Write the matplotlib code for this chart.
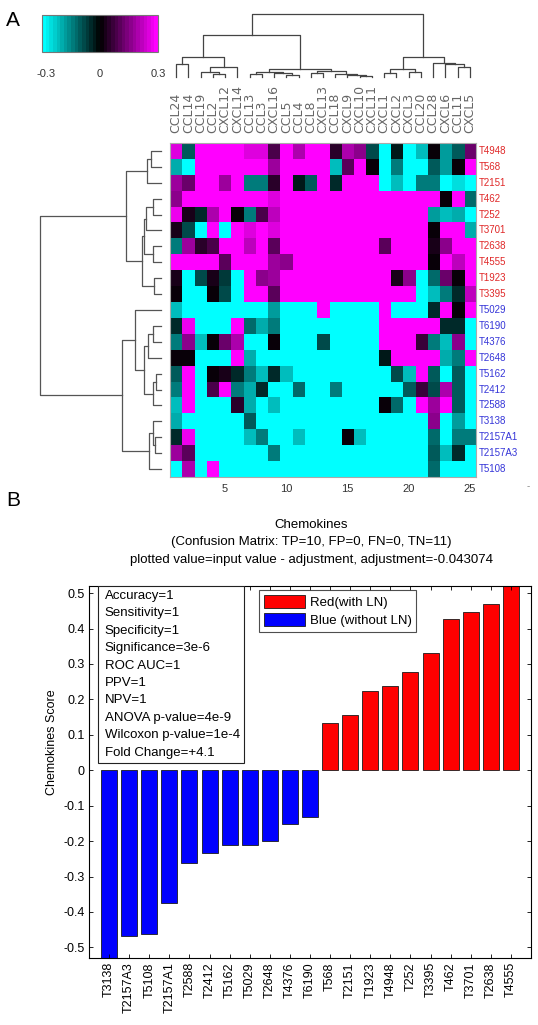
import numpy as np
import matplotlib
matplotlib.use('Agg')
import matplotlib.pyplot as plt
from matplotlib.colors import LinearSegmentedColormap
from matplotlib.patches import Rectangle, Patch
from matplotlib.transforms import blended_transform_factory

plt.rcParams['axes.unicode_minus'] = False
plt.rcParams['font.family'] = ['Liberation Sans', 'DejaVu Sans']

# ---------------- data ----------------
genes = ['CCL24', 'CCL14', 'CCL19', 'CCL2', 'CXCL12', 'CXCL14', 'CCL13', 'CCL3',
         'CXCL16', 'CCL5', 'CCL4', 'CCL8', 'CXCL13', 'CCL18', 'CXCL9', 'CXCL10',
         'CXCL11', 'CXCL1', 'CXCL2', 'CXCL3', 'CCL20', 'CCL28', 'CXCL6', 'CCL11', 'CXCL5']
samples = ['T4948', 'T568', 'T2151', 'T462', 'T252', 'T3701', 'T2638', 'T4555', 'T1923', 'T3395',
           'T5029', 'T6190', 'T4376', 'T2648', 'T5162', 'T2412', 'T2588', 'T3138', 'T2157A1',
           'T2157A3', 'T5108']
sample_group = ['red'] * 10 + ['blue'] * 11

heat = np.array([
    [.25, -.10, .30, .30, .30, .30, .25, .25, .08, .30, .20, .30, .30, .05, .20, .15, -.08, -.30, -.03, -.30, -.22, .00, -.18, -.10, .12],
    [-.20, -.30, .30, .30, .30, .30, .30, .30, .18, .30, .30, .30, .30, -.22, .10, .30, .00, -.30, -.15, -.30, -.30, -.10, -.18, .00, .30],
    [.18, .12, .30, .30, .18, .30, -.15, -.15, .04, .30, -.03, -.10, .30, -.04, .30, .30, .30, -.30, -.22, -.30, -.15, -.15, -.30, -.25, -.30],
    [.15, .30, .30, .30, .30, .30, .30, .30, .25, .30, .30, .30, .30, .30, .30, .30, .30, .30, .30, .30, .30, .30, .00, .30, -.12],
    [.28, .03, -.04, .20, .30, .00, -.15, .08, .22, .30, .30, .30, .30, .30, .30, .30, .30, .30, .30, .30, .30, -.18, -.22, -.20, -.30],
    [.03, -.08, -.30, .30, -.30, .30, .25, .30, .25, .30, .30, .30, .30, .30, .30, .30, .30, .30, .30, .30, .30, .00, .30, .30, -.20],
    [-.15, .18, .04, .08, .30, .30, .22, .30, .10, .30, .30, .30, .30, .30, .30, .30, .30, .10, .30, .30, .30, .03, .15, .30, .30],
    [.30, .30, .30, .30, .10, .30, .30, .30, .18, .15, .30, .30, .30, .30, .30, .30, .30, .30, .30, .30, .30, .00, .30, .22, .30],
    [.03, -.30, -.08, .03, -.06, -.30, .30, .15, .18, .30, .30, .30, .30, .30, .30, .30, .30, .30, .03, .15, -.30, -.12, .12, .00, .30],
    [.00, -.30, -.30, .00, -.08, -.30, .30, .30, .10, .30, .30, .30, .30, .30, .30, .30, .30, .30, .30, .30, -.30, -.22, -.15, -.04, .22],
    [-.22, -.30, -.30, -.30, -.30, -.30, -.30, -.30, -.18, -.30, -.30, -.30, .30, -.30, -.30, -.30, -.30, .30, -.30, -.30, -.30, -.04, .30, .00, .30],
    [-.04, .28, -.30, -.30, -.30, .30, -.12, -.20, -.14, -.30, -.30, -.30, -.30, -.30, -.30, -.30, -.30, .30, .30, .30, .30, .30, -.04, -.04, -.30],
    [-.15, .15, -.22, .00, .12, .20, -.30, -.30, .00, -.30, -.30, -.30, -.08, -.30, -.30, -.30, -.30, .30, .30, .30, .06, -.15, -.22, .15, -.30],
    [.00, .00, -.30, -.30, -.30, .30, -.20, -.30, -.30, -.30, -.30, -.30, -.30, -.30, -.30, -.30, -.30, -.03, .30, .30, .30, .30, -.20, -.15, .30],
    [-.10, .30, -.30, .00, .03, -.04, -.15, -.22, -.04, -.22, -.30, -.30, -.30, -.30, -.30, -.30, -.30, -.30, -.08, -.22, .30, -.10, -.30, -.10, -.30],
    [-.15, .30, -.30, .08, .30, -.15, -.20, -.04, -.30, -.30, -.12, -.30, -.30, -.15, -.30, -.30, -.30, -.30, -.30, -.10, .06, -.08, .20, -.10, -.30],
    [-.22, .30, -.30, -.30, -.30, .05, -.20, -.30, -.22, -.30, -.30, -.30, -.30, -.30, -.30, -.30, -.30, .00, -.12, -.30, .30, .18, .30, -.10, -.30],
    [-.20, -.30, -.30, -.30, -.30, -.30, -.10, -.30, -.30, -.30, -.30, -.30, -.30, -.30, -.30, -.30, -.30, -.30, -.30, -.30, -.30, .15, -.30, -.18, -.30],
    [-.04, .28, -.30, -.30, -.30, -.30, -.22, -.15, -.30, -.30, -.22, -.30, -.30, -.30, .00, -.22, -.30, -.30, -.30, -.30, -.30, -.12, -.30, -.15, -.15],
    [.18, .10, -.30, -.30, -.30, -.30, -.30, -.30, -.15, -.30, -.30, -.30, -.30, -.30, -.30, -.30, -.30, -.30, -.30, -.30, -.30, -.10, -.22, -.04, -.30],
    [-.30, .20, -.30, .30, -.30, -.30, -.30, -.30, -.30, -.30, -.30, -.30, -.30, -.30, -.30, -.30, -.30, -.30, -.30, -.30, -.30, -.12, -.30, -.30, -.30],
])

# dendrogram merges: (child_a, child_b, height); leaves 0..n-1, new nodes numbered n, n+1, ...
col_merges = [
    (3, 4, 0.05), (2, 25, 0.08), (26, 5, 0.16), (0, 1, 0.21), (28, 27, 0.31),
    (6, 7, 0.04), (9, 10, 0.03), (8, 31, 0.06), (30, 32, 0.08), (11, 12, 0.07),
    (15, 16, 0.02), (14, 35, 0.03), (13, 36, 0.04), (34, 37, 0.10), (33, 38, 0.13),
    (29, 39, 0.665), (17, 18, 0.06), (19, 20, 0.08), (41, 42, 0.12), (23, 24, 0.16),
    (22, 44, 0.20), (21, 45, 0.22), (43, 46, 0.31), (40, 47, 1.0),
]
row_merges = [
    (0, 1, 0.083), (21, 2, 0.117), (3, 4, 0.07), (23, 5, 0.12), (6, 7, 0.07),
    (24, 25, 0.139), (8, 9, 0.056), (26, 27, 0.153), (22, 28, 0.29), (11, 12, 0.07),
    (30, 13, 0.111), (14, 15, 0.042), (32, 16, 0.07), (31, 33, 0.139), (10, 34, 0.214),
    (18, 19, 0.05), (17, 36, 0.07), (37, 20, 0.097), (35, 38, 0.32), (29, 39, 1.0),
]

bar_labels = ['T3138', 'T2157A3', 'T5108', 'T2157A1', 'T2588', 'T2412', 'T5162', 'T5029',
              'T2648', 'T4376', 'T6190', 'T568', 'T2151', 'T1923', 'T4948', 'T252', 'T3395',
              'T462', 'T3701', 'T2638', 'T4555']
bar_values = [-0.54, -0.469, -0.463, -0.375, -0.263, -0.234, -0.212, -0.210, -0.201, -0.152,
              -0.132, 0.132, 0.157, 0.223, 0.239, 0.277, 0.330, 0.426, 0.446, 0.469, 0.53]
bar_group = ['blue'] * 11 + ['red'] * 10

stats_lines = ['Accuracy=1', 'Sensitivity=1', 'Specificity=1', 'Significance=3e-6',
               'ROC AUC=1', 'PPV=1', 'NPV=1', 'ANOVA p-value=4e-9',
               'Wilcoxon p-value=1e-4', 'Fold Change=+4.1']
title_lines = ['Chemokines', '(Confusion Matrix: TP=10, FP=0, FN=0, TN=11)',
               'plotted value=input value - adjustment, adjustment=-0.043074']
legend_labels = ['Red(with LN)', 'Blue (without LN)']

# ---------------- figure ----------------
W, H = 538, 1025
fig = plt.figure(figsize=(W / 100, H / 100), dpi=100)


def px_axes(x0, y0, x1, y1):
    return fig.add_axes([x0 / W, 1 - y1 / H, (x1 - x0) / W, (y1 - y0) / H])


def dendro_segments(merges, n):
    pos = {i: i + 1 for i in range(n)}
    hgt = {i: 0.0 for i in range(n)}
    segs = []
    for k, (a, b, h) in enumerate(merges):
        nid = n + k
        xa, xb = pos[a], pos[b]
        segs.append(([xa, xa, xb, xb], [hgt[a], h, h, hgt[b]]))
        pos[nid] = (xa + xb) / 2
        hgt[nid] = h
    return segs


cmap = LinearSegmentedColormap.from_list('cm', [(0, 1, 1), (0, 0, 0), (1, 0, 1)], N=32)
vmin, vmax = -0.3, 0.3
ncol, nrow = len(genes), len(samples)

# heatmap
axh = px_axes(170, 143, 476, 477)
im = axh.imshow(heat, cmap=cmap, vmin=vmin, vmax=vmax, aspect='auto', interpolation='nearest',
                extent=(0.5, ncol + 0.5, nrow + 0.5, 0.5))
axh.set_xticks([5, 10, 15, 20, 25])
axh.set_yticks([])
axh.tick_params(axis='x', length=0, pad=5, labelsize=8, labelcolor='#333333')
for s in axh.spines.values():
    s.set_color('#aaaaaa')
    s.set_linewidth(0.8)
trx = blended_transform_factory(axh.transData, axh.transAxes)
for i, g in enumerate(genes):
    axh.text(i + 1, 1 + 10 / 334, g, transform=trx, rotation=90, ha='center', va='bottom',
             fontsize=9, color='#666666', family=['DejaVu Sans'])
try_ = blended_transform_factory(axh.transAxes, axh.transData)
for i, s in enumerate(samples):
    axh.text(1 + 3 / 306, i + 1, s, transform=try_, ha='left', va='center', fontsize=7,
             color='#e02828' if sample_group[i] == 'red' else '#3535d8')
fig.text(528 / W, 1 - 486 / H, '-', fontsize=7, color='#888888', ha='center', va='center')

# top dendrogram
axt = px_axes(170, 14, 476, 77)
for xs, ys in dendro_segments(col_merges, ncol):
    axt.plot(xs, ys, color='#444444', lw=0.9, clip_on=False)
axt.set_xlim(0.5, ncol + 0.5)
axt.set_ylim(0, 1)
axt.axis('off')

# left dendrogram
axl = px_axes(40, 143, 161, 477)
for xs, ys in dendro_segments(row_merges, nrow):
    axl.plot(ys, xs, color='#555555', lw=0.9, clip_on=False)
axl.set_ylim(nrow + 0.5, 0.5)
axl.set_xlim(1, 0)
axl.axis('off')

# colorbar
axc = px_axes(42, 15, 158, 52)
cb = fig.colorbar(im, cax=axc, orientation='horizontal', ticks=[-0.28, 0, 0.3])
cb.ax.set_xticklabels(['-0.3', '0', '0.3'])
cb.ax.tick_params(length=0, pad=12, labelsize=8, labelcolor='#333333')
cb.outline.set_edgecolor('#777777')
cb.outline.set_linewidth(0.8)

fig.text(6 / W, 1 - 21 / H, 'A', fontsize=15, ha='left', va='center')
fig.text(6 / W, 1 - 501 / H, 'B', fontsize=15, ha='left', va='center')

# ---------------- bar chart ----------------
axb = px_axes(89, 586, 531, 958)
xpos = np.arange(1, len(bar_values) + 1)
cols = ['#0000ff' if g == 'blue' else '#ff0000' for g in bar_group]
axb.bar(xpos, bar_values, width=0.8, color=cols, edgecolor='#1a1a1a', linewidth=0.6)
axb.set_xlim(0, len(bar_values) + 1)
axb.set_ylim(-0.53, 0.52)
axb.set_xticks(xpos)
axb.set_xticklabels(bar_labels, rotation=90, fontsize=9)
yt = np.round(np.arange(-0.5, 0.51, 0.1), 1)
axb.set_yticks(yt)
axb.set_yticklabels(['%g' % v if abs(v) > 1e-9 else '0' for v in yt], fontsize=9)
axb.tick_params(direction='in', top=True, right=True, length=3, width=0.6, pad=3)
for s in axb.spines.values():
    s.set_linewidth(0.8)
axb.set_ylabel('Chemokines Score', fontsize=9)
axb.yaxis.set_label_coords(-0.07, 0.58)

for k, line in enumerate(title_lines):
    fig.text(311 / W, 1 - (525 + 17.5 * k) / H, line, fontsize=9.5, ha='center', va='center')

# stats box
axb.add_patch(Rectangle((0.0204, 0.524), 0.3303, 0.476, transform=axb.transAxes,
                        facecolor='white', edgecolor='#222222', lw=0.8, zorder=5))
for k, line in enumerate(stats_lines):
    axb.text(0.036, 1 - (4 + 17.4 * k) / 372, line, transform=axb.transAxes, fontsize=9.5,
             ha='left', va='top', zorder=6)

handles = [Patch(facecolor='#ff0000', edgecolor='#1a1a1a', lw=0.6),
           Patch(facecolor='#0000ff', edgecolor='#1a1a1a', lw=0.6)]
leg = axb.legend(handles, legend_labels, loc='upper left', bbox_to_anchor=(0.385, 0.989),
                 fontsize=9.5, frameon=True, fancybox=False, edgecolor='#222222',
                 handlelength=3.1, handleheight=1.2, handletextpad=0.4, borderpad=0.35,
                 labelspacing=0.3, borderaxespad=0)
leg.get_frame().set_linewidth(0.8)

fig.savefig('out.png', dpi=100)
